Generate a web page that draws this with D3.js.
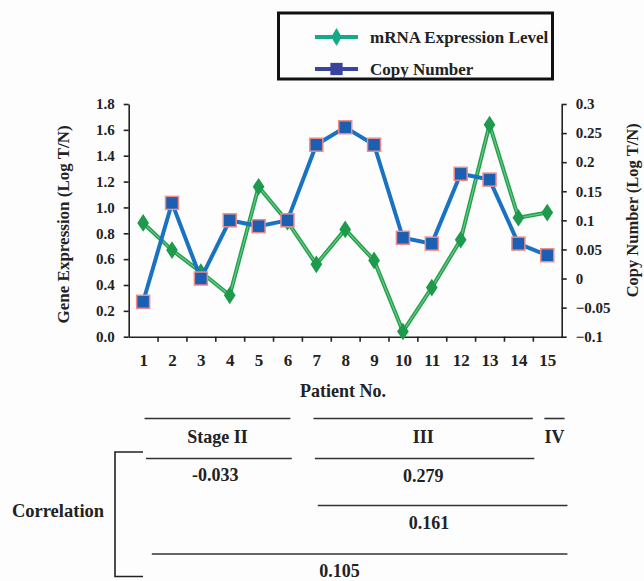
<!DOCTYPE html>
<html>
<head>
<meta charset="utf-8">
<script src="https://cdn.jsdelivr.net/npm/d3@7"></script>
<style>
  body { margin: 0; background: #fdfdfe; }
  text { font-family: "Liberation Serif", "Times New Roman", serif; font-weight: bold; fill: #222; }
</style>
</head>
<body>
<div id="chart"></div>
<script>
const width = 644;
const height = 581;

// data
const patients = d3.range(1, 16);
const mrnaLevel = [0.88, 0.67, 0.50, 0.32, 1.16, 0.89, 0.56, 0.83, 0.59, 0.04, 0.38, 0.75, 1.64, 0.92, 0.96];
const copyNumber = [-0.04, 0.13, 0.0, 0.10, 0.09, 0.10, 0.23, 0.26, 0.23, 0.07, 0.06, 0.18, 0.17, 0.06, 0.04];
const leftTicks = [0, 0.2, 0.4, 0.6, 0.8, 1.0, 1.2, 1.4, 1.6, 1.8];
const rightTicks = [-0.1, -0.05, 0, 0.05, 0.1, 0.15, 0.2, 0.25, 0.3];
const legendLabels = ["mRNA Expression Level", "Copy Number"];

// stage groups (patient ranges) and correlations
const stages = [
  { label: "Stage II", from: 1.05, to: 6.1 },
  { label: "III", from: 6.9, to: 14.5 },
  { label: "IV", from: 14.9, to: 15.6 }
];
const correlations = [
  { value: "-0.033", from: 1.1, to: 6.15 },
  { value: "0.279", from: 6.95, to: 14.55 },
  { value: "0.161", from: 7.05, to: 15.7 },
  { value: "0.105", from: 1.3, to: 15.7 }
];

const colors = {
  mrna: "#22a04b",
  mrnaLight: "#6cc88a",
  copy: "#1a72c2",
  copyFill: "#1a5fb2",
  copyEdge: "#f08a8a",
  legendMrna: "#17a887",
  legendCopy: "#3a44a0"
};

const plot = { left: 128.7, right: 561.7, top: 104, bottom: 336.7 };

const svg = d3.select("#chart")
  .append("svg")
  .attr("width", width)
  .attr("height", height);

// scales
const x = d3.scaleLinear().domain([0.5, 15.5]).range([plot.left, plot.right]);
const yLeft = d3.scaleLinear().domain([0, 1.8]).range([plot.bottom, plot.top]);
const yRight = d3.scaleLinear().domain([-0.1, 0.3]).range([plot.bottom, plot.top]);

// axes
const styleAxis = g => {
  g.select(".domain").attr("stroke", "#222").attr("stroke-width", 1.6);
  g.selectAll(".tick line").attr("stroke", "#222").attr("stroke-width", 1.6);
  g.selectAll("text").attr("font-family", null).attr("fill", "#222");
};

svg.append("g")
  .attr("transform", `translate(${plot.left},0)`)
  .call(d3.axisLeft(yLeft).tickValues(leftTicks).tickFormat(d3.format(".1f")).tickSize(5).tickPadding(9).tickSizeOuter(0))
  .call(styleAxis)
  .selectAll("text").attr("font-size", 15);

svg.append("g")
  .attr("transform", `translate(${plot.right},0)`)
  .call(d3.axisRight(yRight).tickValues(rightTicks).tickFormat(d => d3.format("")(+d.toFixed(2))).tickSize(5).tickPadding(9).tickSizeOuter(0))
  .call(styleAxis)
  .selectAll("text").attr("font-size", 15);

svg.append("g")
  .attr("transform", `translate(0,${plot.bottom})`)
  .call(d3.axisBottom(x).tickValues(d3.range(1.5, 15.5, 1)).tickFormat("").tickSize(5).tickSizeOuter(0))
  .call(styleAxis);

svg.append("g")
  .attr("transform", `translate(0,${plot.bottom})`)
  .call(d3.axisBottom(x).tickValues(patients).tickFormat(d3.format("d")).tickSize(0).tickPadding(17))
  .call(g => g.select(".domain").remove())
  .call(styleAxis)
  .selectAll("text").attr("font-size", 17);

// axis titles
svg.append("text")
  .attr("transform", `translate(69,${(plot.top + plot.bottom) / 2 + 4}) rotate(-90)`)
  .attr("text-anchor", "middle")
  .attr("font-size", 17)
  .text("Gene Expression (Log T/N)");

svg.append("text")
  .attr("transform", `translate(638,${(plot.top + plot.bottom) / 2 - 10}) rotate(-90)`)
  .attr("text-anchor", "middle")
  .attr("font-size", 16.5)
  .text("Copy Number (Log T/N)");

svg.append("text")
  .attr("x", 343)
  .attr("y", 397)
  .attr("text-anchor", "middle")
  .attr("font-size", 18)
  .text("Patient No.");

// series
const mrnaLine = d3.line().x((d, i) => x(patients[i])).y(d => yLeft(d));
const copyLine = d3.line().x((d, i) => x(patients[i])).y(d => yRight(d));

svg.append("path")
  .datum(mrnaLevel)
  .attr("d", mrnaLine)
  .attr("fill", "none")
  .attr("stroke", colors.mrna)
  .attr("stroke-width", 4);
svg.append("path")
  .datum(mrnaLevel)
  .attr("d", mrnaLine)
  .attr("fill", "none")
  .attr("stroke", colors.mrnaLight)
  .attr("stroke-width", 1.2);

const diamond = d3.symbol().type(d3.symbolDiamond).size(90);
svg.selectAll(".mrna-pt")
  .data(mrnaLevel)
  .enter()
  .append("path")
  .attr("class", "mrna-pt")
  .attr("d", diamond)
  .attr("transform", (d, i) => `translate(${x(patients[i])},${yLeft(d)}) scale(1.15,1)`)
  .attr("fill", "#1e9a4c");

svg.append("path")
  .datum(copyNumber)
  .attr("d", copyLine)
  .attr("fill", "none")
  .attr("stroke", colors.copy)
  .attr("stroke-width", 4);

svg.selectAll(".copy-pt")
  .data(copyNumber)
  .enter()
  .append("rect")
  .attr("class", "copy-pt")
  .attr("x", (d, i) => x(patients[i]) - 6.5)
  .attr("y", d => yRight(d) - 6.5)
  .attr("width", 13)
  .attr("height", 13)
  .attr("fill", colors.copyFill)
  .attr("stroke", colors.copyEdge)
  .attr("stroke-width", 1.5);

// legend
const legend = svg.append("g");
legend.append("rect")
  .attr("x", 278.5).attr("y", 13)
  .attr("width", 274).attr("height", 66)
  .attr("fill", "#fdfdfe")
  .attr("stroke", "#111")
  .attr("stroke-width", 3);

const legendRows = legend.selectAll(".row")
  .data(legendLabels)
  .enter()
  .append("g")
  .attr("transform", (d, i) => `translate(315,${37 + i * 32})`);

legendRows.append("line")
  .attr("x1", 0).attr("x2", 43)
  .attr("stroke", (d, i) => i === 0 ? colors.legendMrna : colors.legendCopy)
  .attr("stroke-width", 4);

legendRows.append("path")
  .attr("d", (d, i) => i === 0 ? d3.symbol().type(d3.symbolDiamond).size(95)() : d3.symbol().type(d3.symbolSquare).size(150)())
  .attr("transform", "translate(21.5,0)")
  .attr("fill", (d, i) => i === 0 ? colors.legendMrna : colors.legendCopy);

legendRows.append("text")
  .attr("x", 55)
  .attr("y", 6)
  .attr("font-size", 17)
  .text(d => d);

// stage / correlation table below
const tableLine = (from, to, yPos) => {
  svg.append("line")
    .attr("x1", x(from)).attr("x2", x(to))
    .attr("y1", yPos).attr("y2", yPos)
    .attr("stroke", "#333")
    .attr("stroke-width", 1.6);
};

stages.forEach(s => {
  tableLine(s.from, s.to, 418.5);
  svg.append("text")
    .attr("x", x((s.from + s.to) / 2))
    .attr("y", 443)
    .attr("text-anchor", "middle")
    .attr("font-size", 18)
    .text(s.label);
});

const corrRows = [458.5, 458.5, 505.5, 554];
correlations.forEach((c, i) => {
  tableLine(c.from, c.to, corrRows[i]);
});
svg.append("text").attr("x", x(3.5)).attr("y", 481).attr("text-anchor", "middle").attr("font-size", 18).text(correlations[0].value);
svg.append("text").attr("x", x(10.7)).attr("y", 482).attr("text-anchor", "middle").attr("font-size", 18).text(correlations[1].value);
svg.append("text").attr("x", x(10.9)).attr("y", 529).attr("text-anchor", "middle").attr("font-size", 18).text(correlations[2].value);
svg.append("text").attr("x", x(7.8)).attr("y", 577).attr("text-anchor", "middle").attr("font-size", 18).text(correlations[3].value);

// bracket
svg.append("path")
  .attr("d", "M143,452 H115 V576.5 H143")
  .attr("fill", "none")
  .attr("stroke", "#222")
  .attr("stroke-width", 1.6);

svg.append("text")
  .attr("x", 58)
  .attr("y", 517)
  .attr("text-anchor", "middle")
  .attr("font-size", 18.5)
  .text("Correlation");
</script>
</body>
</html>
